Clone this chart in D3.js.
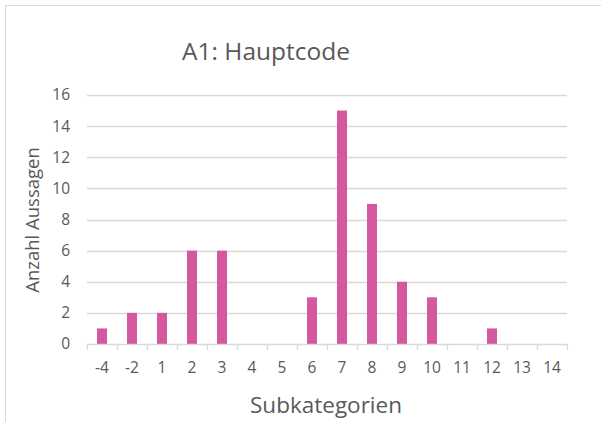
<!DOCTYPE html>
<html>
<head>
<meta charset="utf-8">
<script src="https://cdn.jsdelivr.net/npm/d3@7"></script>
<style>
  body { margin: 0; background: #fff; }
  text { font-family: "Open Sans", "Noto Sans", sans-serif; fill: #595959; }
</style>
</head>
<body>
<div id="chart"></div>
<script>
// DATA
var categories = ["-4", "-2", "1", "2", "3", "4", "5", "6", "7", "8", "9", "10", "11", "12", "13", "14"];
var counts = [1, 2, 2, 6, 6, 0, 0, 3, 15, 9, 4, 3, 0, 1, 0, 0];
var yTicks = [0, 2, 4, 6, 8, 10, 12, 14, 16];

var svgWidth = 601;
var svgHeight = 422;

var margin = { top: 95, right: 34, bottom: 78, left: 87 };
var width = 480;
var height = 249;

var svg = d3.select("#chart")
  .append("svg")
  .attr("width", svgWidth)
  .attr("height", svgHeight);

// chart border
svg.append("rect")
  .attr("x", 5.5)
  .attr("y", 5.5)
  .attr("width", 600)
  .attr("height", 430)
  .attr("fill", "none")
  .attr("stroke", "#d9d9d9");

var chartGroup = svg.append("g")
  .attr("transform", `translate(${margin.left}, ${margin.top})`);

var xScale = d3.scaleBand()
  .domain(categories)
  .range([0, width]);

var yScale = d3.scaleLinear()
  .domain([0, 16])
  .range([height, 0]);

// gridlines
chartGroup.append("g")
  .selectAll("line")
  .data(yTicks.slice(1))
  .enter()
  .append("line")
  .attr("x1", 0)
  .attr("x2", width)
  .attr("y1", d => Math.round(yScale(d)) + 0.5)
  .attr("y2", d => Math.round(yScale(d)) + 0.5)
  .attr("stroke", "#d9d9d9")
  .attr("stroke-width", 1.3);

// y axis labels
var leftAxis = d3.axisLeft(yScale).tickValues(yTicks).tickSize(0).tickPadding(17);
var yAxis = chartGroup.append("g").call(leftAxis);
yAxis.select(".domain").remove();
yAxis.selectAll("text")
  .attr("font-size", "15.5px")
  .style("font-family", "'Open Sans', sans-serif")
  .attr("fill", "#595959");

// bars
chartGroup.selectAll("rect.bar")
  .data(counts)
  .enter()
  .append("rect")
  .attr("class", "bar")
  .attr("x", (d, i) => xScale(categories[i]) + xScale.bandwidth() / 2 - 5)
  .attr("y", d => yScale(d))
  .attr("width", 10)
  .attr("height", d => height - yScale(d))
  .attr("fill", "#d5579d");

// x axis
var bottomAxis = d3.axisBottom(xScale).tickSize(0).tickPadding(18);
var xAxis = chartGroup.append("g")
  .attr("transform", `translate(0, ${height})`)
  .call(bottomAxis);
xAxis.select(".domain").remove();
xAxis.selectAll("text")
  .attr("font-size", "15.5px")
  .style("font-family", "'Open Sans', sans-serif")
  .attr("fill", "#595959");

chartGroup.append("line")
  .attr("x1", 0)
  .attr("x2", width)
  .attr("y1", height + 0.5)
  .attr("y2", height + 0.5)
  .attr("stroke", "#d9d9d9")
  .attr("stroke-width", 1.3);

// tick marks between categories
chartGroup.append("g")
  .selectAll("line")
  .data(d3.range(categories.length + 1))
  .enter()
  .append("line")
  .attr("x1", i => Math.round(i * xScale.step()) + 0.5)
  .attr("x2", i => Math.round(i * xScale.step()) + 0.5)
  .attr("y1", height)
  .attr("y2", height + 6)
  .attr("stroke", "#d9d9d9")
  .attr("stroke-width", 1.3);

// title
svg.append("text")
  .attr("x", 266)
  .attr("y", 60)
  .attr("text-anchor", "middle")
  .attr("font-size", "24.5px")
  .text("A1: Hauptcode");

// axis titles
svg.append("text")
  .attr("x", 326)
  .attr("y", 413)
  .attr("text-anchor", "middle")
  .attr("font-size", "22.5px")
  .text("Subkategorien");

svg.append("text")
  .attr("transform", "translate(39, 220) rotate(-90)")
  .attr("text-anchor", "middle")
  .attr("font-size", "18.5px")
  .text("Anzahl Aussagen");
</script>
</body>
</html>
